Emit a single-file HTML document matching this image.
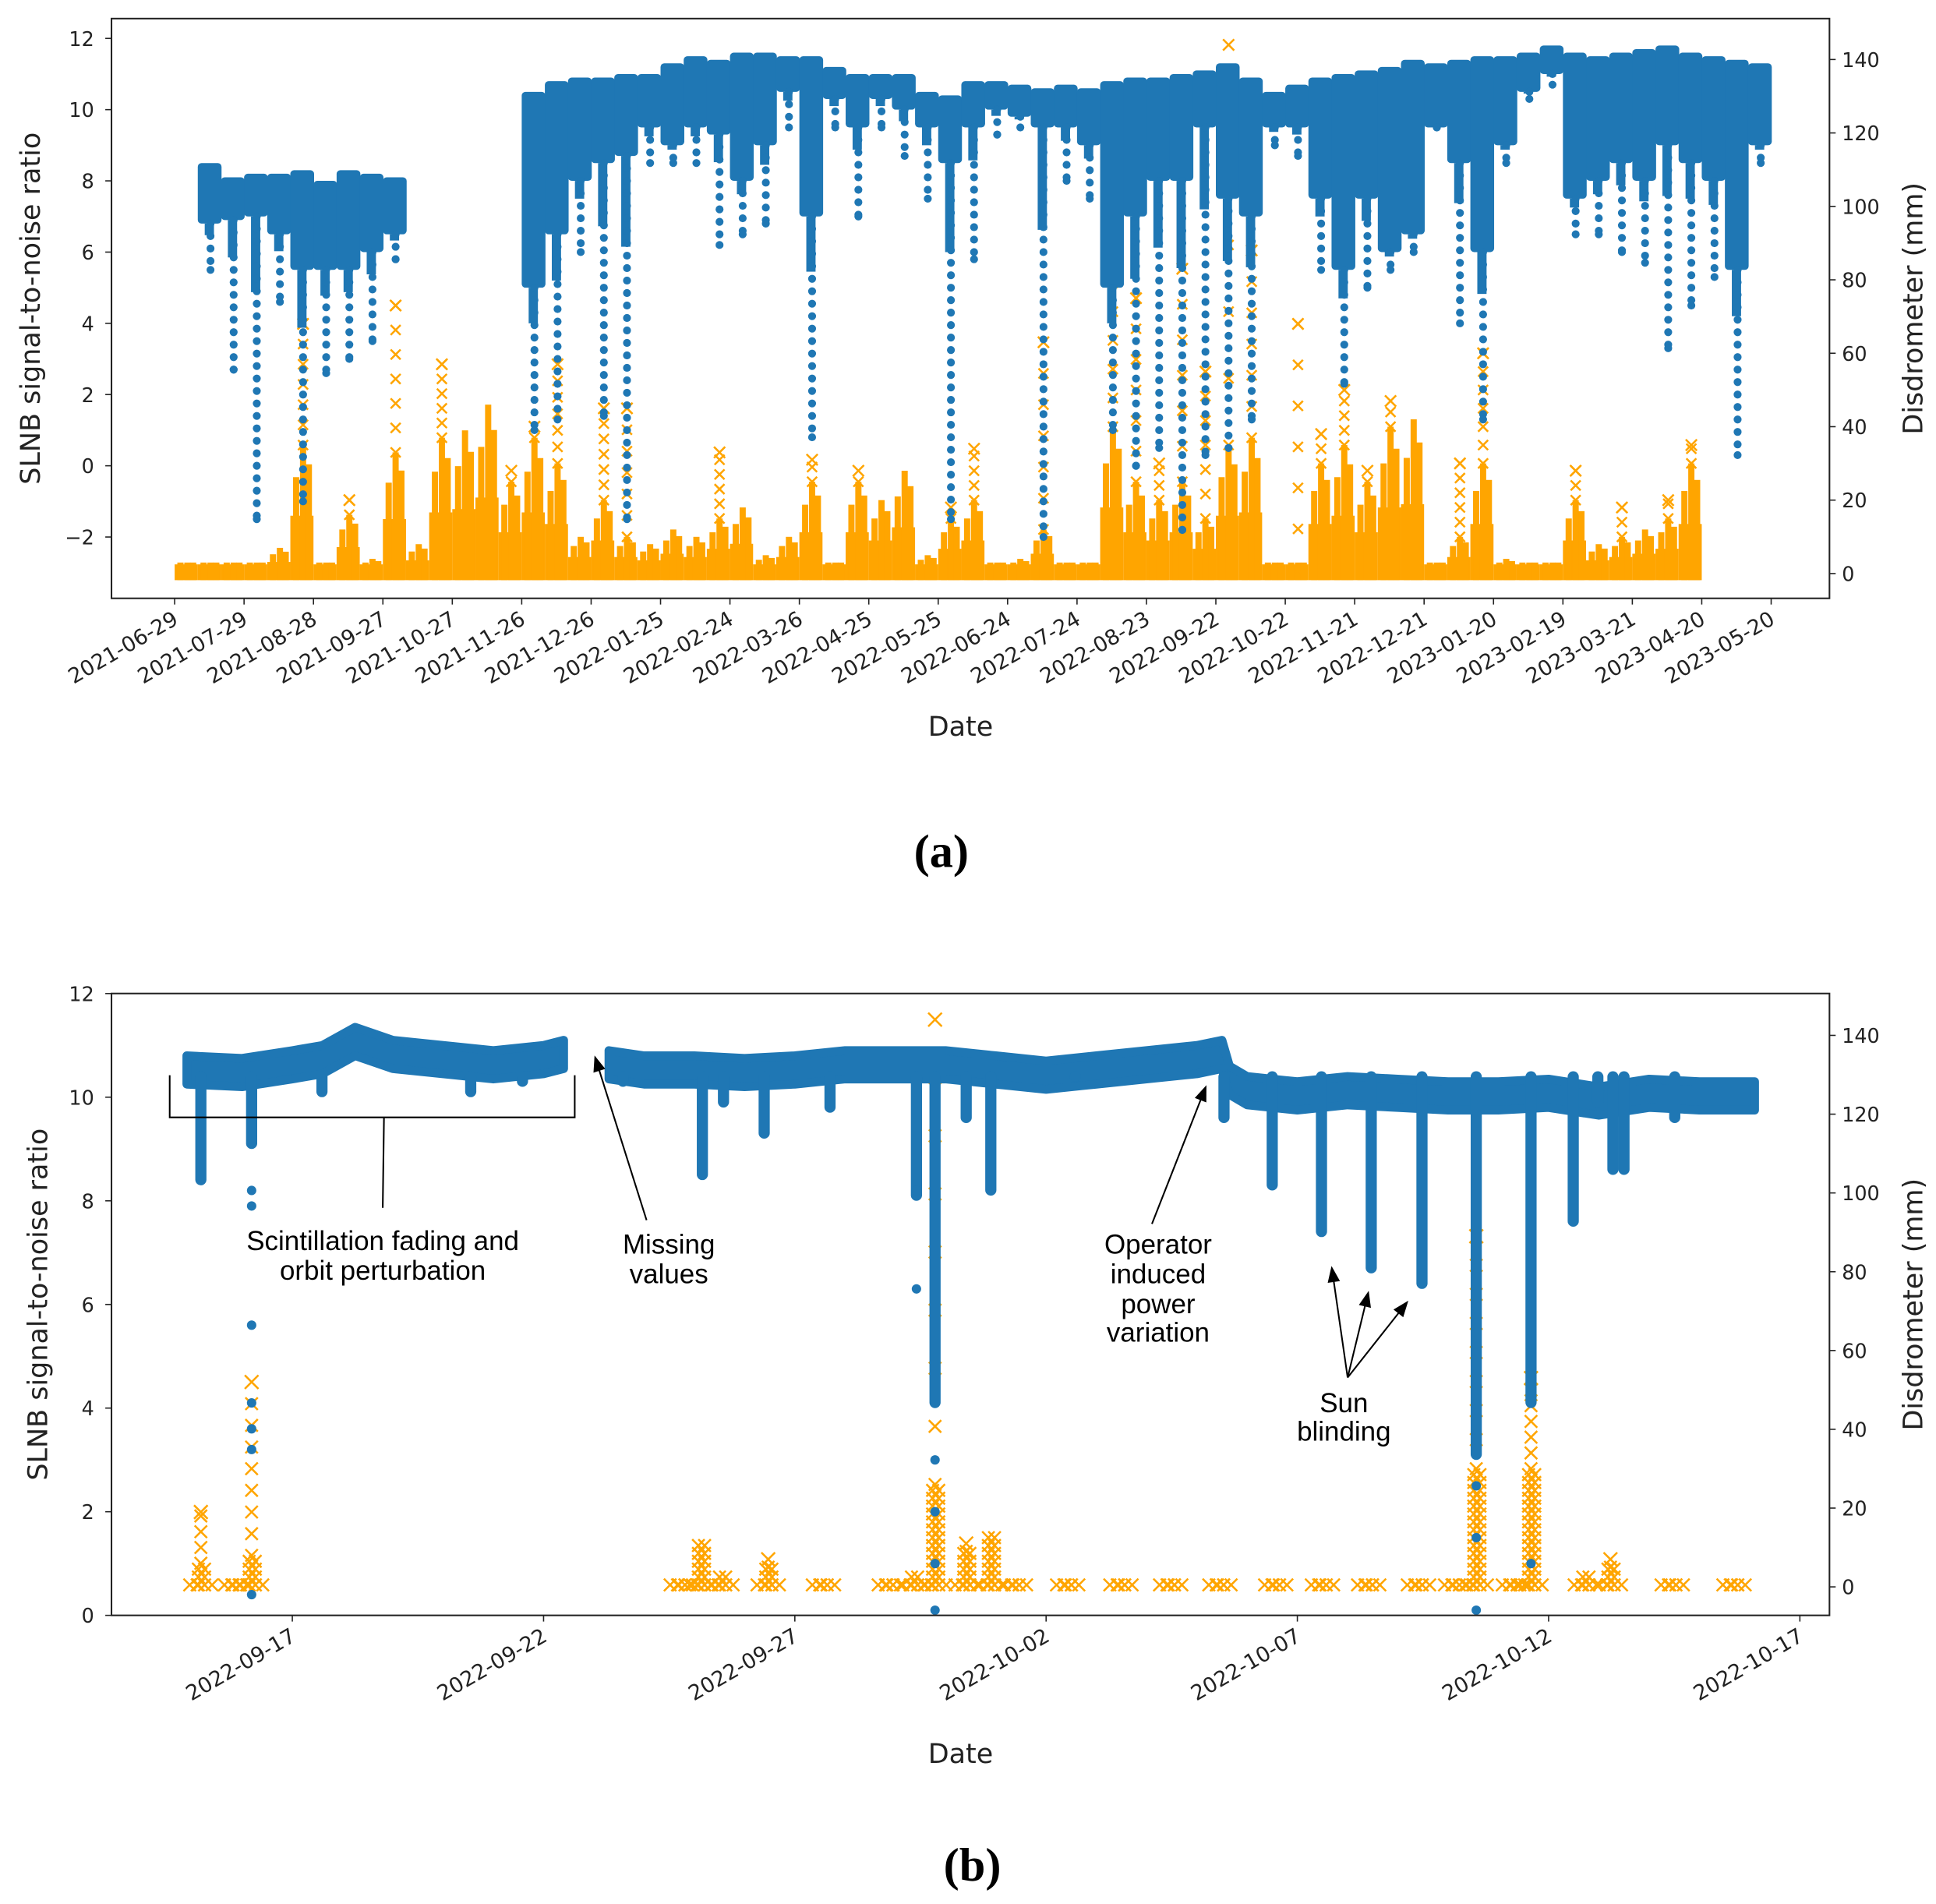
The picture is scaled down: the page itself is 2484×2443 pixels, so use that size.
<!DOCTYPE html>
<html><head><meta charset="utf-8"><style>
html,body{margin:0;padding:0;background:#fff;}
svg{display:block;}
text{font-family:"DejaVu Sans","Liberation Sans",sans-serif;}
.ann{font-family:"Liberation Sans",sans-serif;font-size:22px;}
.cap{font-family:"Liberation Serif",serif;font-weight:bold;font-size:38px;}
</style></head><body>
<svg id="fig" xmlns="http://www.w3.org/2000/svg" width="2484" height="2443" viewBox="0 0 1563 1537" preserveAspectRatio="none">
<rect x="0" y="0" width="1563" height="1537" fill="#fff"/>
<g id="pa"></g>
<g id="pb"></g>
<text x="760" y="700" text-anchor="middle" class="cap">(a)</text>
<text x="785" y="1518" text-anchor="middle" class="cap">(b)</text>
</svg>
<script>
// ---------- Panel (a) data: 10-day bins starting 2021-06-29 ----------
const aTickLabels=["2021-06-29","2021-07-29","2021-08-28","2021-09-27","2021-10-27","2021-11-26","2021-12-26","2022-01-25","2022-02-24","2022-03-26","2022-04-25","2022-05-25","2022-06-24","2022-07-24","2022-08-23","2022-09-22","2022-10-22","2022-11-21","2022-12-21","2023-01-20","2023-02-19","2023-03-21","2023-04-20","2023-05-20"];
const aLeftTicks=[-2,0,2,4,6,8,10,12];
const aRightTicks=[0,20,40,60,80,100,120,140];
const aSnrTop=[null,8.5,8.1,8.2,8.2,8.3,8.0,8.3,8.2,8.1,null,null,null,null,null,10.5,10.8,10.9,10.9,11.0,11.0,11.3,11.5,11.4,11.6,11.6,11.5,11.5,11.2,11.0,11.0,11.0,10.5,10.4,10.8,10.8,10.7,10.6,10.7,10.6,10.8,10.9,10.9,11.0,11.1,11.3,10.9,10.5,10.7,10.9,11.0,11.1,11.2,11.4,11.3,11.4,11.5,11.5,11.6,11.8,11.6,11.5,11.6,11.7,11.8,11.6,11.5,11.4,11.3];
const aSnrBot=[null,6.8,6.9,7.0,6.5,5.5,5.5,5.5,6.0,6.5,null,null,null,null,null,5,6.5,8,8.5,8.7,9.5,9,9.5,9.3,8,9,10.5,7,10.3,9.5,10.3,10,9.5,8.5,9.5,10,9.8,9.5,9.5,9,5,7,8,8,9.5,7.5,7,9.5,9.5,7.5,5.5,7.5,6,6.5,9.5,8.5,6,9,10.5,11,7.5,8,8.5,8,9,8.5,8,5.5,9];
const aSnrMin=[null,5.5,2.7,-1.5,4.6,-1,2.6,3,3.5,5.8,null,null,null,null,null,1,1.3,6,1.4,-1.5,8.5,8.5,8.5,6.2,6.5,6.8,9.5,0.8,9.5,7,9.5,8.7,7.5,-1.5,5.8,9.3,9.5,-2,8,7.5,1,0,0.5,-1.8,0.3,0.5,1.3,9,8.7,5.5,2.3,5,5.5,6,9.5,4,1.3,8.5,10.3,10.7,6.5,6.5,6,5.7,3.3,4.5,5.3,0.3,8.5];
const aRainBulk=[3,3,2,2,7,35,3,16,4,33,8,37,39,46,25,37,30,10,20,10,8,12,10,15,18,5,10,25,3,25,20,28,5,15,20,3,4,12,0,3,40,25,20,25,15,35,37,1,1,30,35,25,40,42,1,10,30,4,1,1,20,8,10,12,15,30,null,null,null];
const aRainMax=[3,5,3,3,8,68,4,20,5,73,8,57,40,48,28,40,57,12,45,45,10,14,12,33,20,6,12,31,4,28,22,30,6,18,34,4,5,63,0,4,87,75,30,83,55,144,88,2,68,38,50,28,47,44,2,30,60,5,2,2,28,10,18,14,20,35,null,null,null];

// ---------- Panel (b) data: days relative to 2022-09-17 ----------
const bTickLabels=["2022-09-17","2022-09-22","2022-09-27","2022-10-02","2022-10-07","2022-10-12","2022-10-17"];
const bLeftTicks=[0,2,4,6,8,10,12];
const bRightTicks=[0,20,40,60,80,100,120,140];
const bTopDay=[-2.1,-1,0,0.6,1.25,2,3,4,5,5.4,null,6.3,7,8,9,10,11,12,13,14,15,16,17,18,18.5,18.65,19,20,21,22,23,24,25,26,27,28,29.1];
const bTop=[10.8,10.75,10.9,11.0,11.35,11.1,11.0,10.9,11.0,11.1,null,10.9,10.8,10.8,10.75,10.8,10.9,10.9,10.9,10.8,10.7,10.8,10.9,11.0,11.1,10.6,10.4,10.3,10.4,10.35,10.3,10.3,10.35,10.2,10.35,10.3,10.3];
const bDipDay=[-1.82,-0.81,0.59,3.55,4.58,6.58,8.16,8.58,9.39,10.70,12.42,12.79,13.41,13.9,15.58,18.54,19.5,20.48,21.47,22.48,23.56,24.65,25.49,25.98,26.28,26.5,27.51];
const bDipMin=[8.3,9.0,10.0,10.0,10.2,10.2,8.4,9.8,9.2,9.7,8.0,4.0,9.5,8.1,10.3,9.5,8.2,7.3,6.6,6.3,3.0,4.0,7.5,9.8,8.5,8.5,9.5];
const bOutDay=[-0.81,-0.81,-0.81,-0.81,-0.81,-0.81,-0.81,12.42,12.42,12.79,12.79,12.79,12.79,23.56,23.56,23.56,24.65];
const bOutVal=[8.2,7.9,5.6,4.1,3.6,3.2,0.4,8.2,6.3,3.0,2.0,1.0,0.1,2.5,1.5,0.1,1.0];
const bRainDay=[-1.82,-1.13,-0.81,7.74,8.13,8.55,9.47,10.57,11.88,12.37,12.79,13.41,13.9,14.39,15.43,16.49,17.48,18.46,19.57,20.5,21.42,22.41,23.15,23.56,24.3,24.65,25.73,26.23,27.46,28.69];
const bRainBulk=[6,1,8,1,11,3,5,1,1,4,26,9,13,1,1,1,1,1,1,1,1,1,1,30,1,30,3,5,1,1];
const bRainMax=[19,1,52,1,12,4,7,2,2,5,144,11,14,1,1,1,1,1,1,1,1,1,1,89,1,53,4,7,1,1];

const NS="http://www.w3.org/2000/svg";
const BLUE="#1f77b4", ORANGE="#ffa500";
function mk(tag,parent,attrs){const e=document.createElementNS(NS,tag);for(const k in attrs)e.setAttribute(k,attrs[k]);parent.appendChild(e);return e;}
function dayDiff(s,base){const a=s.split("-").map(Number),b=base.split("-").map(Number);return (Date.UTC(a[0],a[1]-1,a[2])-Date.UTC(b[0],b[1]-1,b[2]))/86400000;}
function xmark(g,x,y,s){const p=mk("path",g,{d:`M${x-s},${y-s}L${x+s},${y+s}M${x-s},${y+s}L${x+s},${y-s}`,stroke:ORANGE,"stroke-width":1.6,fill:"none"});

}

function axes(g,o){
  const fr=mk("rect",g,{x:o.L,y:o.T,width:o.R-o.L,height:o.B-o.T,fill:"none",stroke:"#222","stroke-width":1.3});
  
  
  o.lt.forEach(v=>{const y=o.yl(v);mk("line",g,{x1:o.L-5,x2:o.L,y1:y,y2:y,stroke:"#222"});
    const t=mk("text",g,{x:o.L-14,y:y+6,"text-anchor":"end","font-size":16,fill:"#222"});t.textContent=v<0?"\u2212"+(-v):v;
    
    });
  o.rt.forEach(v=>{const y=o.yr(v);mk("line",g,{x1:o.R,x2:o.R+5,y1:y,y2:y,stroke:"#222"});
    const t=mk("text",g,{x:o.R+10,y:y+6,"font-size":16,fill:"#222"});t.textContent=v;
    
    });
  o.xt.forEach(s=>{const x=o.xd(dayDiff(s,o.base));mk("line",g,{x1:x,x2:x,y1:o.B,y2:o.B+5,stroke:"#222"});
    const t=mk("text",g,{x:x+4,y:o.B+20,"text-anchor":"end","font-size":17,fill:"#222",transform:`rotate(-30 ${x+4} ${o.B+20})`});t.textContent=s;
    
    });
  const yl=mk("text",g,{x:0,y:0,"text-anchor":"middle","font-size":22,fill:"#222",transform:`translate(${o.ylx},${(o.T+o.B)/2}) rotate(-90)`});yl.textContent="SLNB signal-to-noise ratio";
  
  
  const yr=mk("text",g,{x:0,y:0,"text-anchor":"middle","font-size":22,fill:"#222",transform:`translate(${o.yrx},${(o.T+o.B)/2}) rotate(-90)`});yr.textContent="Disdrometer (mm)";
  
  
  const xl=mk("text",g,{x:(o.L+o.R)/2-8,y:o.xly,"text-anchor":"middle","font-size":22,fill:"#222"});xl.textContent="Date";
  
  
}

// ---------- draw panel a ----------
(function(){
  const g=document.getElementById("pa");
  const L=90,R=1477,T=15,B=483;
  const yl=v=>376-28.75*v, yr=m=>463-2.964*m, xd=d=>141+1.868*d;
  const W=10*1.868;
  const data=mk("g",g,{});
  
  
  aRainBulk.forEach((b,i)=>{ if(b===null) return;
    const x0=xd(i*10), mx=aRainMax[i];
    const base=yr(-1.8);
    const r=mk("rect",data,{x:x0,y:yr(Math.max(b*0.45,2.5)),width:W,height:base-yr(Math.max(b*0.45,2.5)),fill:ORANGE});
    
    
    [0.25,0.55,0.8].forEach((f,k)=>{const h=[0.75,1,0.85][k];
      const s=mk("rect",data,{x:x0+f*W-2.5,y:yr(Math.max(b*h,3)),width:5,height:base-yr(Math.max(b*h,3)),fill:ORANGE});
      
      });
    if(mx>b+2){ for(let m=b;m<=mx;m+=Math.max(4,(mx-b)/6)) xmark(data,x0+0.55*W,yr(m),4); xmark(data,x0+0.55*W,yr(mx),4.5);}
  });
  aSnrTop.forEach((t,i)=>{ if(t===null) return;
    const x0=xd(i*10), bt=aSnrBot[i], mn=aSnrMin[i];
    const r=mk("rect",data,{x:x0,y:yl(t),width:W+0.5,height:yl(bt)-yl(t),fill:BLUE,rx:3});
    
    
    const r2=mk("rect",data,{x:x0+W*0.3,y:yl(bt),width:W*0.4,height:Math.max(0,yl((bt+mn)/2+ (bt-mn)*0.25)-yl(bt)),fill:BLUE});
    
    
    for(let v=bt;v>=mn;v-=0.35){const c=mk("circle",data,{cx:x0+W*0.55,cy:yl(v),r:3.2,fill:BLUE});
      
      }
    const c=mk("circle",data,{cx:x0+W*0.55,cy:yl(mn),r:3.2,fill:BLUE});
    
    
  });
  axes(g,{L,R,T,B,yl,yr,xd,lt:aLeftTicks,rt:aRightTicks,xt:aTickLabels,base:"2021-06-29",ylx:32,yrx:1552,xly:594});
})();

// ---------- draw panel b ----------
(function(){
  const g=document.getElementById("pb");
  const L=90,R=1477,T=802,B=1304;
  const yl=v=>1304-41.83*v, yr=m=>1281-3.18*m, xd=d=>236+40.57*d;
  const data=mk("g",g,{});
  
  
  bRainDay.forEach((d,i)=>{const x=xd(d),b=bRainBulk[i],mx=bRainMax[i];
    for(let dx=-9;dx<=9;dx+=6) xmark(data,x+dx,yr(0.5),5);
    for(let m=0.5;m<=b;m+=2){xmark(data,x-2,yr(m),5);xmark(data,x+3,yr(m),5);}
    if(mx>b+1){ for(let m=b;m<mx;m+=Math.max(4,(mx-b)/8)) xmark(data,x,yr(m),5); xmark(data,x,yr(mx),5.5);}
  });
  let segs=[[]];
  bTopDay.forEach((d,i)=>{ if(d===null){segs.push([]);return;} segs[segs.length-1].push([xd(d),bTop[i]]);});
  segs.forEach(s=>{
    let dp="M"+s.map(p=>p[0]+","+yl(p[1])).join("L");
    dp+="L"+s.slice().reverse().map(p=>p[0]+","+yl(p[1]-0.55)).join("L")+"Z";
    const p=mk("path",data,{d:dp,fill:BLUE,stroke:BLUE,"stroke-width":7,"stroke-linejoin":"round"});
    
    
  });
  bDipDay.forEach((d,i)=>{const x=xd(d);
    const top=yl(10.5), bot=yl(bDipMin[i]);
    const r=mk("rect",data,{x:x-4.5,y:top,width:9,height:bot-top,rx:4.5,fill:BLUE});
    
    
  });
  bOutDay.forEach((d,i)=>{const c=mk("circle",data,{cx:xd(d),cy:yl(bOutVal[i]),r:3.8,fill:BLUE});
    
    });
  axes(g,{L,R,T,B,yl,yr,xd,lt:bLeftTicks,rt:bRightTicks,xt:bTickLabels,base:"2022-09-17",ylx:38,yrx:1552,xly:1423});

  const a=mk("g",g,{});
  
  
  mk("path",a,{d:"M137,868L137,902L464,902L464,868M310,902L309,975",stroke:"#000","stroke-width":1.3,fill:"none"});
  const arrows=[[522,985,480,852],[930,988,974,876],[1088,1112,1075,1022],[1088,1112,1105,1042],[1088,1112,1137,1050]];
  arrows.forEach(r=>{const [x1,y1,x2,y2]=r;const ang=Math.atan2(y2-y1,x2-x1),h=13,w=5;
    mk("line",a,{x1,y1,x2:x2-Math.cos(ang)*h*0.8,y2:y2-Math.sin(ang)*h*0.8,stroke:"#000","stroke-width":1.3});
    const bx=x2-Math.cos(ang)*h,by=y2-Math.sin(ang)*h;
    const p=mk("path",a,{d:`M${x2},${y2}L${bx-Math.sin(ang)*w},${by+Math.cos(ang)*w}L${bx+Math.sin(ang)*w},${by-Math.cos(ang)*w}Z`,fill:"#000"});
    
    });
  const labels=[[309,1009,"Scintillation fading and"],[309,1033,"orbit perturbation"],[540,1012,"Missing"],[540,1036,"values"],[935,1012,"Operator"],[935,1036,"induced"],[935,1060,"power"],[935,1083,"variation"],[1085,1140,"Sun"],[1085,1163,"blinding"]];
  labels.forEach(l=>{const t=mk("text",a,{x:l[0],y:l[1],"text-anchor":"middle",class:"ann",fill:"#000"});t.textContent=l[2];
    
    });
})();
</script>
</body></html>
